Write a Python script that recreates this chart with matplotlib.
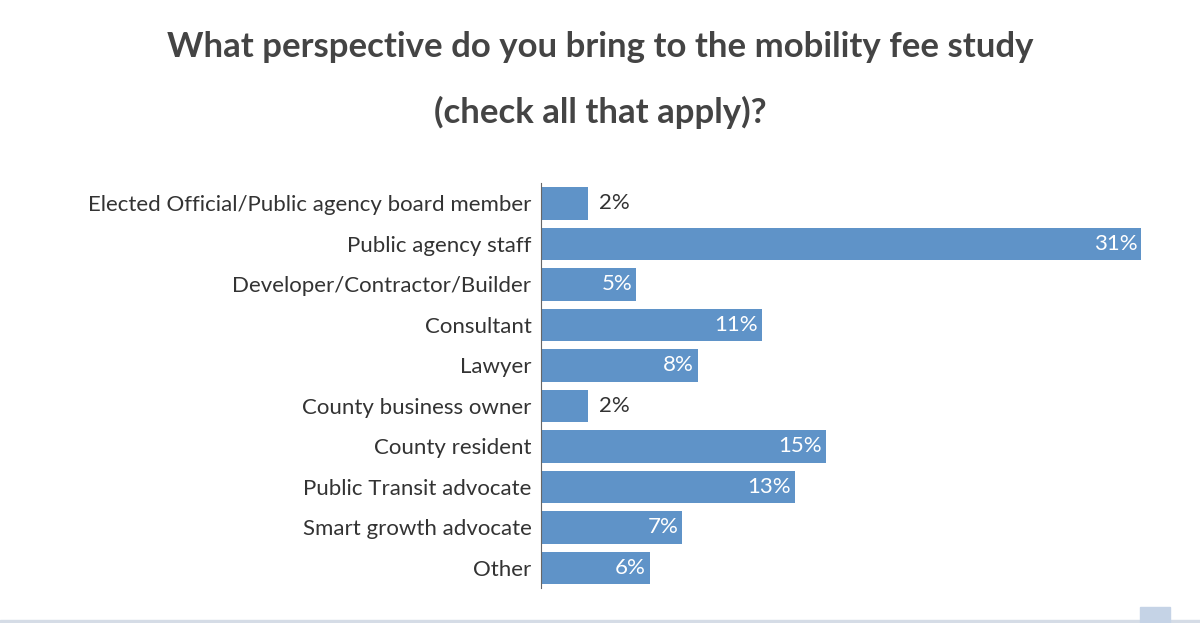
import matplotlib
matplotlib.use("Agg")
import matplotlib.pyplot as plt
from matplotlib.patches import Rectangle

categories = ["Elected Official/Public agency board member", "Public agency staff",
              "Developer/Contractor/Builder", "Consultant", "Lawyer",
              "County business owner", "County resident", "Public Transit advocate",
              "Smart growth advocate", "Other"]
values = [2.4, 31, 4.9, 11.4, 8.1, 2.4, 14.7, 13.1, 7.3, 5.6]
labels = ["2%", "31%", "5%", "11%", "8%", "2%", "15%", "13%", "7%", "6%"]

plt.rcParams['font.family'] = ['Lato', 'DejaVu Sans']
fig = plt.figure(figsize=(12, 6.23), dpi=100)
fig.patch.set_facecolor("white")
ax = fig.add_axes([0.451, 0.056, 0.5, 0.65])
color = "#5f93c8"
ys = list(range(len(categories)))
ax.barh(ys, values, height=0.8, color=color)
ax.set_ylim(len(categories) - 0.5, -0.5)
ax.set_xlim(0, 31)
ax.set_yticks(ys)
ax.set_yticklabels(categories, fontsize=16, color="#333333")
ax.tick_params(axis='y', length=0, pad=7)
ax.set_xticks([])
for s in ["top", "right", "bottom"]:
    ax.spines[s].set_visible(False)
ax.spines["left"].set_color("#666666")
for y, v, l in zip(ys, values, labels):
    if v > 4:
        ax.text(v - 0.2, y, l, ha="right", va="center", color="white", fontsize=16)
    else:
        ax.text(v + 0.6, y, l, ha="left", va="center", color="#333333", fontsize=16)

fig.text(0.5, 0.925, "What perspective do you bring to the mobility fee study",
         ha="center", va="center", fontsize=25, fontweight="bold", color="#444444")
fig.text(0.5, 0.82, "(check all that apply)?",
         ha="center", va="center", fontsize=25, fontweight="bold", color="#444444")
fig.add_artist(Rectangle((0, 0.0), 1, 0.005, transform=fig.transFigure, color="#d5dce6"))
fig.add_artist(Rectangle((0.95, 0.0), 0.025, 0.026, transform=fig.transFigure, color="#c5d3e6"))
fig.savefig("out.png", dpi=100)
